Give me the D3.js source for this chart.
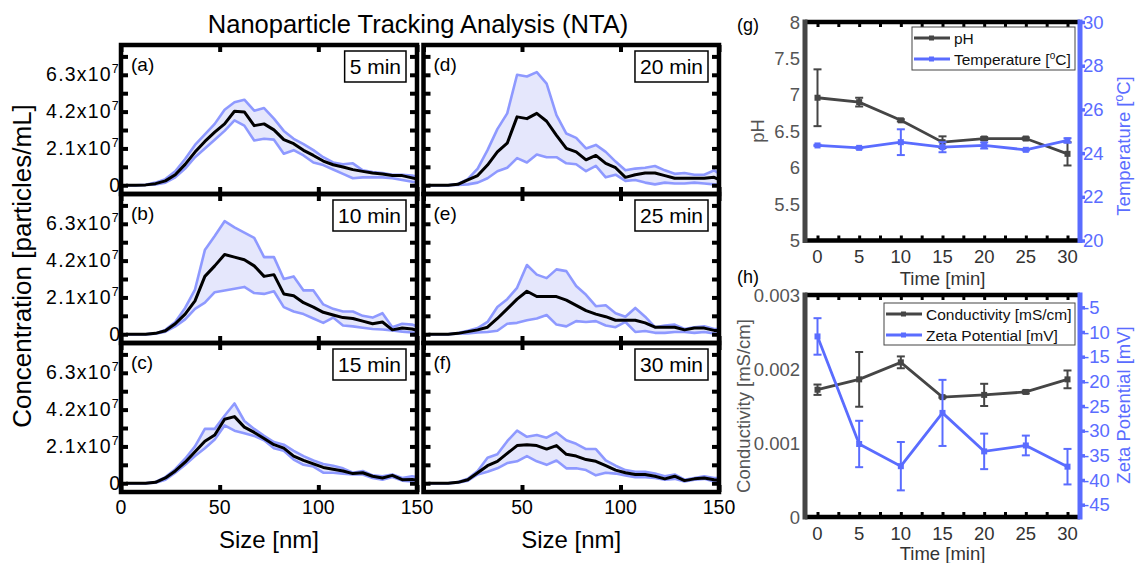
<!DOCTYPE html>
<html><head><meta charset="utf-8">
<script src="https://cdn.jsdelivr.net/npm/d3@7"></script>
<style>
body{margin:0;background:#fff;}
svg{display:block;font-family:"Liberation Sans",Arial,Helvetica,sans-serif;}
</style></head><body>
<svg id="chart" width="1136" height="563"></svg>
<script>
// ---------- NTA data (concentration in units of 1e7 particles/mL) ----------
const sizes = [2.5,7.5,12.5,17.5,22.5,27.5,32.5,37.5,42.5,47.5,52.5,57.5,62.5,67.5,72.5,77.5,82.5,87.5,92.5,97.5,102.5,107.5,112.5,117.5,122.5,127.5,132.5,137.5,142.5,147.5,152.5];
const ntaYTicks = [0, 2.1, 4.2, 6.3];
const ntaYMinor = [1.05, 3.15, 5.25, 7.35];
const ntaXTicks = [0, 50, 100, 150];
const panelLabels = ["(a)","(b)","(c)","(d)","(e)","(f)"];
const panelTimes = ["5 min","10 min","15 min","20 min","25 min","30 min"];

const meanA  = [0,0,0.02,0.09,0.25,0.6,1.19,1.89,2.5,3.03,3.5,4.22,4.18,3.4,3.5,3.16,2.6,2.37,1.99,1.7,1.38,1.17,1.04,0.89,0.79,0.7,0.64,0.55,0.55,0.42,0.3];
const upperA = [0,0,0.03,0.15,0.35,0.8,1.5,2.3,2.9,3.5,4.31,4.73,4.88,4.25,4.4,3.8,3.1,2.65,2.35,2.0,1.6,1.3,1.2,1.25,0.85,0.75,0.7,0.6,0.6,0.55,0.45];
const lowerA = [0,0,0.01,0.05,0.15,0.45,0.95,1.6,2.1,2.6,3.1,3.7,3.4,2.55,2.65,2.6,1.8,2.0,1.7,1.3,1.15,0.9,0.65,0.4,0.45,0.45,0.45,0.4,0.3,0.2,0.15];

const meanB  = [0,0,0,0.05,0.2,0.6,1.15,1.9,3.3,3.9,4.55,4.4,4.25,3.9,3.3,3.4,2.3,2.2,1.8,1.55,1.25,1.1,0.95,0.9,0.75,0.6,0.7,0.25,0.35,0.3,0.15];
const upperB = [0,0,0,0.05,0.25,0.7,1.5,2.55,4.8,5.6,6.45,6.1,5.8,5.5,4.4,4.4,3.15,3.3,2.5,2.5,1.7,1.45,1.3,1.3,1.05,0.95,1.2,0.4,0.6,0.55,0.35];
const lowerB = [0,0,0,0.03,0.15,0.45,0.85,1.45,1.8,2.4,2.5,2.6,2.7,2.35,2.3,2.45,1.55,1.3,1.15,0.9,0.65,0.95,0.5,0.45,0.37,0.3,0.27,0.22,0.15,0.1,0.05];

const meanC  = [0,0,0,0.05,0.3,0.7,1.2,1.8,2.4,2.75,3.65,3.8,3.2,2.9,2.55,2.2,2.0,1.55,1.3,1.1,0.9,0.8,0.7,0.55,0.6,0.4,0.3,0.45,0.2,0.22,0.15];
const upperC = [0,0,0,0.07,0.35,0.8,1.4,2.1,3.1,3.1,3.85,4.55,3.55,3.1,2.7,2.35,2.2,1.85,1.55,1.3,1.1,1.0,0.85,0.6,0.7,0.45,0.4,0.5,0.3,0.4,0.3];
const lowerC = [0,0,0,0.03,0.2,0.6,1.05,1.55,2.0,2.5,3.3,3.0,2.85,2.7,2.45,2.0,1.85,1.35,1.05,0.95,0.6,0.6,0.55,0.5,0.5,0.3,0.2,0.35,0.15,0.1,0.05];

const meanD  = [0,0,0,0.05,0.3,0.55,1.15,1.9,2.4,3.9,3.8,4.1,3.65,2.85,2.1,1.9,1.45,1.7,1.25,1.0,0.45,0.6,0.7,0.7,0.55,0.4,0.4,0.4,0.4,0.45,0.2];
const upperD = [0,0,0,0.07,0.35,0.95,2.0,3.2,4.1,6.3,6.2,6.45,5.8,4.0,2.95,2.7,2.1,2.3,1.9,1.35,0.85,0.95,1.0,1.1,0.85,0.65,0.7,0.6,0.6,0.85,0.5];
const lowerD = [0,0,0,0.02,0.05,0.15,0.4,0.8,1.0,1.55,1.3,1.75,1.6,1.6,1.25,1.2,0.8,1.1,0.45,0.6,0.25,0.3,0.15,0.05,0.15,0.1,0.1,0.15,0.1,0.05,0];

const meanE  = [0,0,0,0.05,0.15,0.25,0.4,0.9,1.45,2.0,2.45,2.15,2.15,2.15,1.95,1.65,1.35,1.15,1.0,0.8,0.8,0.8,0.65,0.4,0.4,0.4,0.25,0.35,0.35,0.22,0.2];
const upperE = [0,0,0,0.07,0.2,0.35,0.7,1.55,2.0,2.65,3.95,3.4,3.2,3.7,3.6,2.75,2.25,1.6,1.65,1.2,1.0,1.5,1.0,0.4,0.5,0.55,0.3,0.4,0.45,0.3,0.3];
const lowerE = [0,0,0,0.03,0.05,0.1,0.13,0.2,0.6,0.65,0.8,0.9,1.1,0.55,0.45,0.75,0.7,0.75,0.5,0.4,0.7,0.13,0.18,0.08,0.08,0.13,0.13,0.08,0.13,0.05,0.02];

const meanF  = [0,0,0,0.05,0.2,0.6,1.0,1.25,1.7,2.15,2.2,2.15,1.95,2.15,1.65,1.55,1.35,1.25,1.0,0.75,0.6,0.5,0.5,0.4,0.25,0.4,0.15,0.25,0.3,0.2,0.15];
const upperF = [0,0,0,0.07,0.25,0.7,1.45,1.65,2.4,3.0,2.65,2.75,2.6,2.9,2.45,2.25,1.95,1.95,1.3,1.0,0.75,0.65,0.65,0.55,0.4,0.5,0.2,0.3,0.4,0.3,0.3];
const lowerF = [0,0,0,0.03,0.15,0.5,0.65,0.85,1.15,1.25,1.55,1.25,1.05,1.3,0.85,0.85,0.75,0.45,0.6,0.55,0.45,0.35,0.35,0.3,0.2,0.25,0.1,0.2,0.25,0.1,0.05];

// ---------- (g) and (h) data ----------
const times = [0,5,10,15,20,25,30];
const pH      = [6.96,6.90,6.65,6.35,6.40,6.40,6.19];
const pHErr   = [0.39,0.06,0.015,0.08,0.02,0.015,0.16];
const temp    = [24.35,24.24,24.5,24.27,24.35,24.15,24.58];
const tempErr = [0.03,0.03,0.59,0.23,0.14,0.03,0.1];
const cond    = [0.00172,0.00186,0.00209,0.00162,0.00165,0.00169,0.00186];
const condErr = [0.00007,0.00037,0.00008,0.00001,0.00015,0.00002,0.00012];
const zeta    = [-10.9,-32.7,-37.2,-26.4,-34.2,-33.0,-37.3];
const zetaErr = [3.7,4.7,4.9,6.7,3.6,2.0,3.6];
const timeTicks = [0,5,10,15,20,25,30];
const pHTicks = [5,5.5,6,6.5,7,7.5,8];
const tempTicks = [20,22,24,26,28,30];
const condTicks = [0,0.001,0.002,0.003];
const zetaTicks = [-45,-40,-35,-30,-25,-20,-15,-10,-5];

// ---------- drawing ----------
const svg = d3.select("#chart");
const BLUE = "#5a6cff", GRAY = "#454545", BAND = "#8e99ff", FILL = "#e5e7fc";
svg.append("rect").attr("width",1136).attr("height",563).attr("fill","#fff");

svg.append("text").attr("x",418).attr("y",33).attr("text-anchor","middle")
  .attr("font-size",25.5).text("Nanoparticle Tracking Analysis (NTA)");

const colX = [[121,417],[423.5,719]];
const rowY = [45,194,343];
const PH = 149;
const ntaSets = [[meanA,upperA,lowerA],[meanB,upperB,lowerB],[meanC,upperC,lowerC],
                 [meanD,upperD,lowerD],[meanE,upperE,lowerE],[meanF,upperF,lowerF]];

ntaSets.forEach((set,i)=>{
  const col = Math.floor(i/3), row = i%3;
  const [mean,upper,lower] = set;
  const x0 = colX[col][0], x1 = colX[col][1], y0 = rowY[row], y1 = y0+PH;
  const x = d3.scaleLinear().domain([0,150]).range([x0,x1]);
  const y = d3.scaleLinear().domain([-0.5,8]).range([y1,y0]);
  const cid = "clip"+i;
  svg.append("clipPath").attr("id",cid).append("rect")
    .attr("x",x0).attr("y",y0).attr("width",x1-x0).attr("height",y1-y0);
  const g = svg.append("g").attr("clip-path",`url(#${cid})`);
  const pts = sizes.map((s,k)=>({s, m:mean[k], u:upper[k], l:lower[k]}));
  g.append("path").datum(pts)
    .attr("d", d3.area().x(d=>x(d.s)).y0(d=>y(d.l)).y1(d=>y(d.u)))
    .attr("fill",FILL);
  const lineU = d3.line().x(d=>x(d.s)).y(d=>y(d.u));
  const lineL = d3.line().x(d=>x(d.s)).y(d=>y(d.l));
  const lineM = d3.line().x(d=>x(d.s)).y(d=>y(d.m));
  g.append("path").datum(pts).attr("d",lineU).attr("fill","none").attr("stroke",BAND).attr("stroke-width",2.6).attr("stroke-linejoin","round");
  g.append("path").datum(pts).attr("d",lineL).attr("fill","none").attr("stroke",BAND).attr("stroke-width",2.6).attr("stroke-linejoin","round");
  g.append("path").datum(pts).attr("d",lineM).attr("fill","none").attr("stroke","#000").attr("stroke-width",3).attr("stroke-linejoin","round");

  const tickStyle = sel => { sel.select(".domain").remove(); sel.selectAll(".tick line").attr("stroke","#000").attr("stroke-width",4); };
  const allY = ntaYTicks.concat(ntaYMinor);
  svg.append("g").attr("transform",`translate(0,${y1})`).call(d3.axisTop(x).tickValues(ntaXTicks).tickSize(7).tickFormat("")).call(tickStyle);
  svg.append("g").attr("transform",`translate(0,${y0})`).call(d3.axisBottom(x).tickValues(ntaXTicks).tickSize(7).tickFormat("")).call(tickStyle);
  svg.append("g").attr("transform",`translate(${x0},0)`).call(d3.axisRight(y).tickValues(allY).tickSize(7).tickFormat("")).call(tickStyle);
  svg.append("g").attr("transform",`translate(${x1},0)`).call(d3.axisLeft(y).tickValues(allY).tickSize(7).tickFormat("")).call(tickStyle);

  svg.append("rect").attr("x",x0).attr("y",y0).attr("width",x1-x0).attr("height",y1-y0)
    .attr("fill","none").attr("stroke","#000").attr("stroke-width",4.5);

  svg.append("text").attr("x",x0+10).attr("y",y0+26).attr("font-size",19).text(panelLabels[i]);
  const boxG = svg.append("g");
  const boxR = boxG.append("rect");
  const tt = boxG.append("text").attr("x",x1-16).attr("y",y0+29).attr("text-anchor","end")
    .attr("font-size",21).text(panelTimes[i]);
  const bb = tt.node().getBBox();
  boxR.attr("x",bb.x-5).attr("y",y0+6).attr("width",bb.width+10).attr("height",31)
    .attr("fill","#fff").attr("stroke","#000").attr("stroke-width",1.5);

  if(col===0){
    ntaYTicks.forEach(v=>{
      const t = svg.append("text").attr("x",120).attr("y",y(v)+6.5).attr("text-anchor","end").attr("font-size",19.5);
      if(v===0){ t.text("0"); }
      else {
        t.attr("letter-spacing",1.2);
        t.append("tspan").text(v.toFixed(1)+"x10");
        t.append("tspan").attr("font-size",12.5).attr("dy",-8).text("7");
      }
    });
  }
  if(row===2){
    ntaXTicks.forEach(v=>{
      if(col===1 && v===0) return;
      svg.append("text").attr("x",x(v)).attr("y",514).attr("text-anchor","middle").attr("font-size",19.5).text(v);
    });
    svg.append("text").attr("x",(x0+x1)/2).attr("y",548).attr("text-anchor","middle").attr("font-size",24).text("Size [nm]");
  }
});

svg.append("text").attr("transform","translate(31,266) rotate(-90)").attr("text-anchor","middle")
  .attr("font-size",26).text("Concentration [particles/mL]");

// ---------- right-hand panels ----------
function dualPanel(opt){
  const {top,bottom,leftDom,rightDom,leftTicks,rightTicks,leftFmt,rightFmt,
         sL,eL,sR,eR,leftLabel,rightLabelFn,rightLabelY,leftLabelY,leftLabelX,panelLabel,panelLabelY,
         xLabY,timeY,legend} = opt;
  const xL = 805, xR = 1080;
  const x = d3.scaleLinear().domain([-1.5,31.5]).range([xL,xR]);
  const yl = d3.scaleLinear().domain(leftDom).range([bottom,top]);
  const yr = d3.scaleLinear().domain(rightDom).range([bottom,top]);
  const minorX = [0,2.5,5,7.5,10,12.5,15,17.5,20,22.5,25,27.5,30];

  const tickStyle = (col,w) => sel => { sel.select(".domain").remove(); sel.selectAll(".tick line").attr("stroke",col).attr("stroke-width",w); };
  svg.append("line").attr("x1",xL).attr("x2",xR).attr("y1",top).attr("y2",top).attr("stroke","#000").attr("stroke-width",4.5);
  svg.append("line").attr("x1",xL).attr("x2",xR).attr("y1",bottom).attr("y2",bottom).attr("stroke","#000").attr("stroke-width",4.5);
  svg.append("g").attr("transform",`translate(0,${top})`).call(d3.axisBottom(x).tickValues(minorX).tickSize(5).tickFormat("")).call(tickStyle("#000",3));
  svg.append("g").attr("transform",`translate(0,${bottom})`).call(d3.axisTop(x).tickValues(minorX).tickSize(5).tickFormat("")).call(tickStyle("#000",3));
  svg.append("g").attr("transform",`translate(${xR},0)`).call(d3.axisRight(yr).tickValues(rightTicks).tickSize(5).tickFormat("")).call(tickStyle(BLUE,3.5));
  svg.append("line").attr("x1",xL).attr("x2",xL).attr("y1",top-2.5).attr("y2",bottom+2.5).attr("stroke",GRAY).attr("stroke-width",5);
  svg.append("line").attr("x1",xR).attr("x2",xR).attr("y1",top-2.5).attr("y2",bottom+2.5).attr("stroke",BLUE).attr("stroke-width",5);

  leftTicks.forEach(v=>svg.append("text").attr("x",xL-5).attr("y",yl(v)+6.5).attr("text-anchor","end")
    .attr("font-size",18.5).attr("fill","#555").text(leftFmt(v)));
  rightTicks.forEach(v=>svg.append("text").attr("x",xR+3).attr("y",yr(v)+6.5).attr("text-anchor","start")
    .attr("font-size",18.5).attr("fill",BLUE).text(rightFmt(v)));
  timeTicks.forEach(v=>svg.append("text").attr("x",x(v)).attr("y",xLabY).attr("text-anchor","middle")
    .attr("font-size",18.5).attr("fill","#333").text(v));
  svg.append("text").attr("x",(xL+xR)/2).attr("y",timeY).attr("text-anchor","middle").attr("font-size",18.5).attr("fill","#333").text("Time [min]");

  svg.append("text").attr("transform",`translate(${leftLabelX},${leftLabelY}) rotate(-90)`).attr("text-anchor","middle")
    .attr("dy","0.35em").attr("font-size",18.5).attr("fill","#555").text(leftLabel);
  const rt = svg.append("text").attr("transform",`translate(1124,${rightLabelY}) rotate(-90)`).attr("text-anchor","middle")
    .attr("dy","0.35em").attr("font-size",18.5).attr("fill",BLUE);
  rightLabelFn(rt);
  svg.append("text").attr("x",737).attr("y",panelLabelY).attr("font-size",18).text(panelLabel);

  function series(vals,errs,ys,col){
    const pts = times.map((t,k)=>({t,v:vals[k],e:errs[k]}));
    svg.append("path").datum(pts).attr("d",d3.line().x(d=>x(d.t)).y(d=>ys(d.v)))
      .attr("fill","none").attr("stroke",col).attr("stroke-width",2.8);
    const eb = svg.append("g").attr("stroke",col).attr("stroke-width",2);
    pts.forEach(d=>{
      const cx = x(d.t), ya = ys(d.v+d.e), yb = ys(d.v-d.e);
      eb.append("line").attr("x1",cx).attr("x2",cx).attr("y1",ya).attr("y2",yb);
      eb.append("line").attr("x1",cx-4).attr("x2",cx+4).attr("y1",ya).attr("y2",ya);
      eb.append("line").attr("x1",cx-4).attr("x2",cx+4).attr("y1",yb).attr("y2",yb);
    });
    svg.append("g").selectAll("rect").data(pts).join("rect")
      .attr("x",d=>x(d.t)-3).attr("y",d=>ys(d.v)-3).attr("width",6).attr("height",6).attr("fill",col);
  }
  series(sL,eL,yl,GRAY);
  series(sR,eR,yr,BLUE);

  const L = legend;
  svg.append("rect").attr("x",L.x).attr("y",L.y).attr("width",L.w).attr("height",L.h)
    .attr("fill","#fff").attr("stroke","#444").attr("stroke-width",1);
  L.items.forEach((it,k)=>{
    const yy = L.y + 11 + k*21;
    svg.append("line").attr("x1",L.x+2).attr("x2",L.x+L.lineW).attr("y1",yy).attr("y2",yy).attr("stroke",it.c).attr("stroke-width",2.8);
    svg.append("rect").attr("x",L.x+2+L.lineW/2-4).attr("y",yy-2.5).attr("width",5).attr("height",5).attr("fill",it.c);
    const t = svg.append("text").attr("x",L.x+L.lineW+4).attr("y",yy+5.5).attr("font-size",15.5).attr("fill","#111");
    it.f(t);
  });
}

dualPanel({
  top:22, bottom:240.5, leftDom:[5,8], rightDom:[20,30],
  leftTicks:pHTicks, rightTicks:tempTicks,
  leftFmt:v=>String(v), rightFmt:v=>String(v),
  sL:pH, eL:pHErr, sR:temp, eR:tempErr,
  leftLabel:"pH", leftLabelX:758, leftLabelY:131,
  rightLabelY:146,
  rightLabelFn:t=>{ t.append("tspan").text("Temperature ["); t.append("tspan").attr("font-size",12).attr("dy",-7).text("o"); t.append("tspan").attr("dy",7).text("C]"); },
  panelLabel:"(g)", panelLabelY:31, xLabY:263, timeY:285,
  legend:{x:912,y:27,w:163,h:43,lineW:38,items:[
    {c:GRAY,f:t=>t.text("pH")},
    {c:BLUE,f:t=>{ t.append("tspan").text("Temperature ["); t.append("tspan").attr("font-size",10).attr("dy",-6).text("o"); t.append("tspan").attr("dy",6).text("C]"); }}
  ]}
});

dualPanel({
  top:295, bottom:517, leftDom:[0,0.003], rightDom:[-47.5,-2.5],
  leftTicks:condTicks, rightTicks:zetaTicks,
  leftFmt:v=>v===0?"0":v.toFixed(3), rightFmt:v=>String(v),
  sL:cond, eL:condErr, sR:zeta, eR:zetaErr,
  leftLabel:"Conductivity [mS/cm]", leftLabelX:744, leftLabelY:406,
  rightLabelY:405,
  rightLabelFn:t=>t.text("Zeta Potential [mV]"),
  panelLabel:"(h)", panelLabelY:283, xLabY:540, timeY:560,
  legend:{x:884,y:303,w:191,h:42,lineW:38,items:[
    {c:GRAY,f:t=>t.text("Conductivity [mS/cm]")},
    {c:BLUE,f:t=>t.text("Zeta Potential [mV]")}
  ]}
});
</script>
</body></html>
